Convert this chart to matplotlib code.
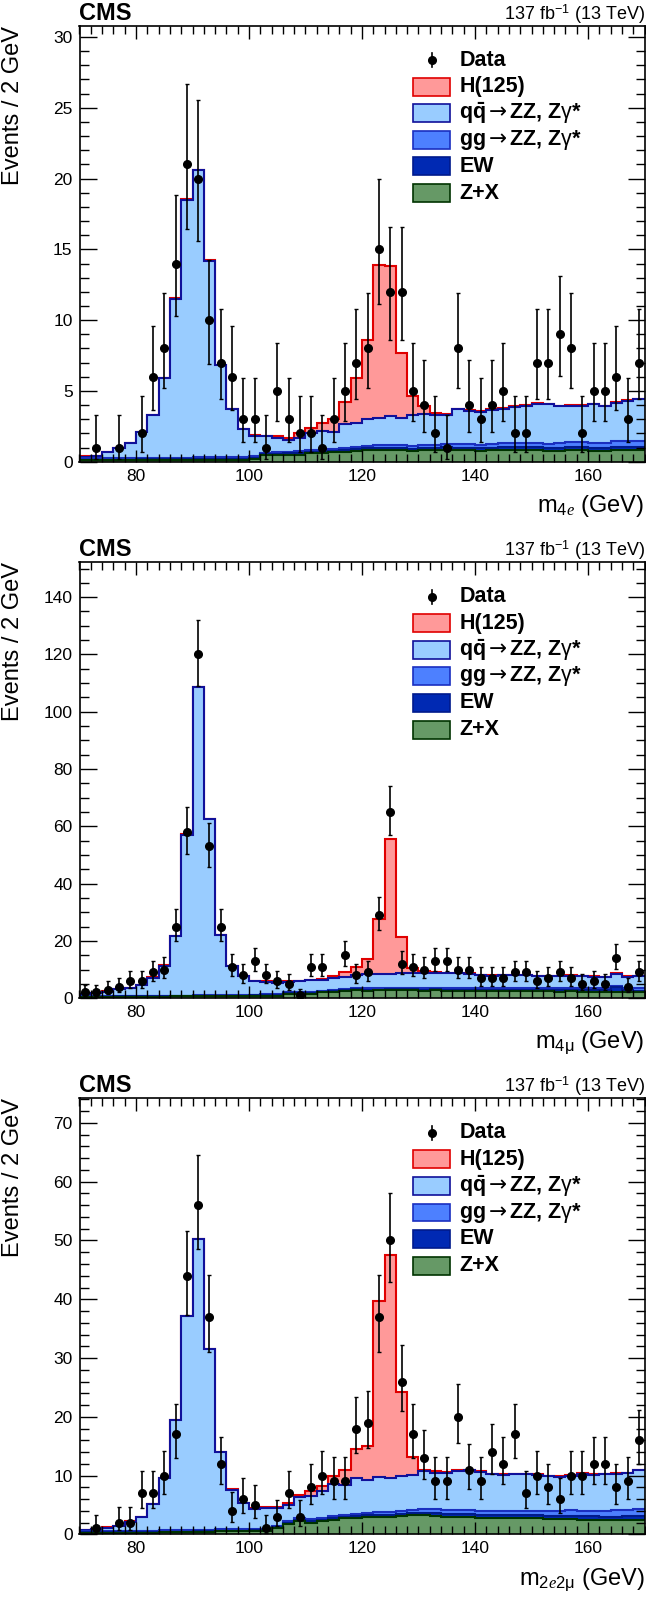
import numpy as np
import matplotlib
matplotlib.use("Agg")
import matplotlib.pyplot as plt
from matplotlib.patches import Rectangle
from matplotlib.ticker import MultipleLocator

plt.rcParams['font.family'] = ['Liberation Sans', 'DejaVu Sans']
plt.rcParams['mathtext.fontset'] = 'custom'
plt.rcParams['mathtext.rm'] = 'Liberation Sans'
plt.rcParams['mathtext.bf'] = 'Liberation Sans:bold'
plt.rcParams['mathtext.it'] = 'Liberation Serif:italic'
plt.rcParams['mathtext.sf'] = 'DejaVu Sans'

# 2 GeV bins from 70 to 170
edges = np.arange(70, 172, 2)

# ---- 4e ----
data_4e = [0, 1, 0, 1, 0, 2, 6, 8, 14, 21,
           20, 10, 7, 6, 3, 3, 1, 5, 3, 2,
           2, 1, 3, 5, 7, 8, 15, 12, 12, 5,
           4, 2, 1, 8, 4, 3, 4, 5, 2, 2,
           7, 7, 9, 8, 2, 5, 5, 6, 3, 7]
zx_4e = [0.10, 0.10, 0.10, 0.10, 0.10, 0.12, 0.12, 0.12, 0.12, 0.12,
         0.15, 0.15, 0.15, 0.15, 0.15, 0.20, 0.45, 0.45, 0.50, 0.50,
         0.60, 0.60, 0.65, 0.70, 0.75, 0.80, 0.85, 0.80, 0.80, 0.75,
         0.80, 0.80, 0.85, 0.80, 0.80, 0.75, 0.80, 0.85, 0.80, 0.80,
         0.80, 0.75, 0.75, 0.80, 0.80, 0.75, 0.75, 0.80, 0.80, 0.80]
ew_4e = [0.05, 0.05, 0.05, 0.05, 0.05, 0.05, 0.05, 0.05, 0.05, 0.05,
         0.06, 0.06, 0.06, 0.06, 0.06, 0.07, 0.07, 0.08, 0.08, 0.09,
         0.10, 0.10, 0.11, 0.12, 0.13, 0.14, 0.14, 0.15, 0.15, 0.16,
         0.17, 0.17, 0.18, 0.18, 0.19, 0.20, 0.20, 0.20, 0.21, 0.21,
         0.22, 0.22, 0.22, 0.23, 0.23, 0.24, 0.24, 0.25, 0.25, 0.26]
gg_4e = [0.12, 0.12, 0.12, 0.12, 0.12, 0.12, 0.12, 0.12, 0.12, 0.12,
         0.10, 0.10, 0.10, 0.10, 0.10, 0.12, 0.12, 0.13, 0.13, 0.14,
         0.15, 0.15, 0.16, 0.17, 0.17, 0.18, 0.19, 0.20, 0.20, 0.21,
         0.22, 0.22, 0.23, 0.24, 0.25, 0.26, 0.27, 0.27, 0.28, 0.29,
         0.30, 0.31, 0.32, 0.33, 0.34, 0.35, 0.36, 0.38, 0.40, 0.42]
qq_4e = [0.08, 0.13, 0.38, 0.68, 1.03, 1.81, 3.01, 5.61, 11.21, 18.21,
         20.29, 13.89, 6.49, 3.39, 1.99, 1.46, 1.16, 0.99, 0.84, 0.97,
         1.15, 1.35, 1.18, 1.66, 1.65, 1.88, 1.92, 2.05, 1.95, 2.18,
         2.21, 2.11, 2.04, 2.48, 2.36, 2.29, 2.38, 2.43, 2.56, 2.65,
         2.78, 2.77, 2.61, 2.59, 2.58, 2.71, 2.55, 2.72, 2.85, 2.92]
h_4e = [0.02, 0.02, 0.02, 0.02, 0.02, 0.02, 0.02, 0.03, 0.03, 0.03,
        0.03, 0.03, 0.03, 0.03, 0.03, 0.05, 0.05, 0.15, 0.10, 0.30,
        0.35, 0.50, 0.95, 1.60, 3.20, 5.60, 10.80, 10.60, 4.55, 1.35,
        0.50, 0.15, 0.10, 0.05, 0.05, 0.05, 0.05, 0.05, 0.05, 0.05,
        0.05, 0.05, 0.05, 0.05, 0.05, 0.05, 0.05, 0.05, 0.05, 0.05]

# ---- 4mu ----
data_4m = [2, 2, 3, 4, 6, 6, 9, 10, 25, 58,
           120, 53, 25, 11, 8, 13, 8, 6, 5, 1,
           11, 11, 0, 15, 8, 9, 29, 65, 12, 11,
           10, 13, 13, 10, 10, 7, 7, 7, 9, 9,
           6, 7, 9, 7, 5, 6, 5, 14, 4, 9]
zx_4m = [0.40, 0.45, 0.45, 0.50, 0.50, 0.50, 0.55, 0.55, 0.60, 0.60,
         0.60, 0.65, 0.65, 0.70, 0.70, 0.75, 0.80, 0.80, 1.50, 1.50,
         1.50, 2.00, 2.10, 2.60, 2.90, 2.60, 2.70, 2.80, 2.70, 2.70,
         2.60, 2.70, 2.60, 2.60, 2.50, 2.50, 2.40, 2.50, 2.40, 2.50,
         2.40, 2.40, 2.30, 2.40, 2.30, 2.20, 2.30, 2.20, 2.20, 2.10]
ew_4m = [0.10, 0.10, 0.10, 0.10, 0.10, 0.12, 0.12, 0.12, 0.12, 0.12,
         0.15, 0.15, 0.15, 0.15, 0.15, 0.20, 0.20, 0.22, 0.22, 0.25,
         0.25, 0.27, 0.28, 0.30, 0.30, 0.32, 0.33, 0.34, 0.35, 0.36,
         0.37, 0.38, 0.39, 0.40, 0.40, 0.42, 0.42, 0.43, 0.44, 0.45,
         0.45, 0.46, 0.47, 0.48, 0.48, 0.50, 0.50, 1.60, 0.52, 0.55]
gg_4m = [0.20, 0.20, 0.20, 0.20, 0.20, 0.20, 0.20, 0.20, 0.20, 0.20,
         0.25, 0.25, 0.25, 0.25, 0.25, 0.30, 0.30, 0.32, 0.32, 0.34,
         0.35, 0.36, 0.38, 0.40, 0.42, 0.50, 0.52, 0.55, 0.57, 0.60,
         0.62, 0.64, 0.65, 0.67, 0.68, 0.70, 0.72, 0.73, 0.75, 0.76,
         0.78, 0.80, 0.80, 0.82, 0.83, 0.85, 0.86, 0.30, 0.88, 0.90]
qq_4m = [0.70, 1.00, 1.55, 2.30, 2.70, 3.88, 6.33, 10.53, 20.88, 56.18,
         107.60, 61.35, 21.05, 10.20, 6.70, 4.85, 4.50, 3.86, 3.76, 3.91,
         4.20, 3.87, 4.24, 4.00, 4.38, 5.18, 4.95, 4.81, 5.08, 5.14,
         5.21, 5.18, 5.16, 5.03, 5.02, 4.38, 4.36, 4.34, 4.41, 4.39,
         4.17, 4.04, 4.23, 4.20, 3.99, 3.95, 3.74, 4.50, 3.90, 4.05]
h_4m = [0.05, 0.05, 0.05, 0.05, 0.05, 0.05, 0.05, 0.05, 0.05, 0.05,
        0.08, 0.08, 0.08, 0.08, 0.08, 0.05, 0.05, 0.05, 0.08, 0.10,
        0.15, 0.30, 0.60, 1.70, 2.80, 5.20, 19.10, 47.00, 12.50, 1.90,
        0.60, 0.20, 0.10, 0.10, 0.10, 0.10, 0.10, 0.10, 0.10, 0.10,
        0.10, 0.10, 0.10, 0.10, 0.10, 0.10, 0.10, 0.10, 0.10, 0.10]

# ---- 2e2mu ----
data_2e2m = [0, 1, 0, 2, 2, 7, 7, 10, 17, 44,
             56, 37, 12, 4, 6, 5, 1, 3, 7, 3,
             8, 10, 9, 9, 18, 19, 37, 50, 26, 17,
             13, 9, 9, 20, 11, 9, 14, 12, 17, 7,
             10, 8, 6, 10, 10, 12, 12, 8, 9, 16]
zx_2e2m = [0.25, 0.25, 0.30, 0.30, 0.30, 0.30, 0.30, 0.35, 0.35, 0.35,
           0.40, 0.40, 0.50, 0.50, 0.50, 0.50, 0.50, 1.00, 1.70, 2.20,
           2.00, 2.20, 2.50, 2.70, 2.80, 2.90, 3.00, 3.00, 3.10, 3.20,
           3.20, 3.10, 3.00, 3.00, 3.00, 2.80, 2.80, 2.70, 2.70, 2.70,
           2.70, 2.60, 2.60, 2.60, 2.50, 2.50, 2.40, 2.40, 2.40, 2.40]
ew_2e2m = [0.08, 0.08, 0.08, 0.08, 0.08, 0.10, 0.10, 0.10, 0.10, 0.10,
           0.12, 0.12, 0.12, 0.12, 0.12, 0.15, 0.15, 0.17, 0.18, 0.20,
           0.20, 0.22, 0.24, 0.26, 0.28, 0.30, 0.32, 0.34, 0.36, 0.38,
           0.50, 0.55, 0.45, 0.45, 0.45, 0.50, 0.50, 0.52, 0.54, 0.55,
           0.55, 0.56, 0.58, 0.58, 0.60, 0.60, 0.62, 0.62, 0.64, 0.65]
gg_2e2m = [0.20, 0.20, 0.20, 0.20, 0.20, 0.20, 0.20, 0.20, 0.20, 0.20,
           0.22, 0.22, 0.22, 0.22, 0.22, 0.25, 0.26, 0.28, 0.30, 0.32,
           0.34, 0.36, 0.38, 0.40, 0.42, 0.45, 0.47, 0.50, 0.52, 0.55,
           0.57, 0.60, 0.62, 0.64, 0.66, 0.68, 0.70, 0.72, 0.75, 0.78,
           0.80, 0.82, 0.85, 0.88, 0.90, 0.95, 1.00, 1.05, 1.10, 1.30]
qq_2e2m = [0.22, 0.37, 0.57, 0.82, 1.57, 2.35, 4.50, 8.85, 18.75, 36.45,
           49.46, 30.76, 13.16, 6.76, 4.46, 3.40, 3.64, 3.00, 2.82, 3.58,
           4.06, 4.52, 5.43, 5.09, 6.00, 5.65, 6.01, 5.76, 5.92, 5.97,
           6.43, 6.25, 6.43, 6.71, 6.79, 6.62, 6.20, 6.16, 6.21, 6.17,
           6.05, 5.92, 5.77, 5.94, 6.30, 6.05, 6.18, 6.23, 6.26, 6.55]
h_2e2m = [0.05, 0.05, 0.05, 0.05, 0.05, 0.05, 0.05, 0.05, 0.05, 0.05,
          0.05, 0.05, 0.05, 0.05, 0.05, 0.10, 0.15, 0.15, 0.40, 0.40,
          0.70, 0.90, 1.45, 2.55, 5.10, 5.70, 29.90, 37.90, 14.40, 3.10,
          0.30, 0.20, 0.10, 0.10, 0.10, 0.10, 0.10, 0.10, 0.10, 0.10,
          0.10, 0.10, 0.10, 0.10, 0.10, 0.10, 0.10, 0.10, 0.10, 0.10]

# stack order bottom -> top: Z+X, EW, gg, qq, H
fills = ['#669966', '#0029b3', '#4d80ff', '#99ccff', '#ff9999']
lines = ['#003300', '#001a8c', '#1a2fc0', '#10109a', '#e00000']
leg_labels = ["H(125)",
              r"q$\mathbf{\bar{q}}\mathsf{\rightarrow}$ZZ, Z$\mathrm{\gamma}$*",
              r"gg$\mathsf{\rightarrow}$ZZ, Z$\mathrm{\gamma}$*",
              "EW", "Z+X"]


def poisson_err(n):
    # approximate Garwood 68% intervals
    n = np.asarray(n, float)
    nn = np.maximum(n, 1)
    lo = n - n * (1 - 1 / (9 * nn) - 1 / (3 * np.sqrt(nn))) ** 3
    m = n + 1
    hi = m * (1 - 1 / (9 * m) + 1 / (3 * np.sqrt(m))) ** 3 - n
    return lo, hi


def draw_panel(ax, data, comps, ymax, major, minor, xlabel):
    cum = np.cumsum(np.array(comps), axis=0)
    for i in reversed(range(len(comps))):
        ax.stairs(cum[i], edges, baseline=0, fill=True, color=fills[i], lw=0)
        ax.stairs(cum[i], edges, baseline=None, color=lines[i], lw=1.5)

    n = np.array(data, float)
    centers = edges[:-1] + 1
    lo, hi = poisson_err(n)
    m = n > 0
    ax.errorbar(centers[m], n[m], yerr=[lo[m], hi[m]], fmt='o', color='black',
                ms=5.5, elinewidth=1.2, capsize=1.3, capthick=1.0, zorder=5)

    ax.set_xlim(70, 170)
    ax.set_ylim(0, ymax)
    ax.xaxis.set_major_locator(MultipleLocator(20))
    ax.xaxis.set_minor_locator(MultipleLocator(2))
    ax.yaxis.set_major_locator(MultipleLocator(major))
    ax.yaxis.set_minor_locator(MultipleLocator(minor))
    ax.tick_params(which='both', direction='in', top=True, right=True,
                   labelsize=12.5, width=1.0)
    ax.tick_params(axis='x', which='major', length=9, pad=5)
    ax.tick_params(axis='x', which='minor', length=5.5)
    ax.tick_params(axis='y', which='major', length=12, pad=5)
    ax.tick_params(axis='y', which='minor', length=6.5)
    for s in ax.spines.values():
        s.set_linewidth(1.2)

    ax.text(1.0, -50 / 436, xlabel, transform=ax.transAxes, ha='right',
            va='baseline', fontsize=17)
    ax.text(0.0, 1 + 6 / 436, "CMS", transform=ax.transAxes, ha='left',
            va='baseline', fontsize=17, fontweight='bold')
    ax.text(1.0, 1 + 6 / 436, r"137 fb$^{-1}$ (13 TeV)", transform=ax.transAxes,
            ha='right', va='baseline', fontsize=13)

    # legend
    rows = [0.921, 0.860, 0.799, 0.738, 0.678, 0.616]
    ax.plot([0.6233, 0.6233], [rows[0] - 0.016, rows[0] + 0.016], color='black',
            lw=1.2, transform=ax.transAxes)
    ax.plot([0.6233], [rows[0]], 'o', color='black', ms=5.5, transform=ax.transAxes)
    ax.text(0.672, rows[0], "Data", transform=ax.transAxes, ha='left',
            va='center', fontsize=15.5, fontweight='bold')
    for k, lab in enumerate(leg_labels):
        idx = len(fills) - 1 - k
        y = rows[k + 1]
        ax.add_patch(Rectangle((0.590, y - 0.0205), 0.0666, 0.041,
                               transform=ax.transAxes, facecolor=fills[idx],
                               edgecolor=lines[idx], lw=1.2))
        ax.text(0.672, y, lab, transform=ax.transAxes, ha='left',
                va='center', fontsize=15.5, fontweight='bold')


fig = plt.figure(figsize=(6.46, 15.97), dpi=100)
left, width, height = 79.5 / 646, 565 / 646, 436 / 1597
bottoms = [1 - 461.7 / 1597, 1 - 998.2 / 1597, 1 - 1534.3 / 1597]

panels = [
    (data_4e, [zx_4e, ew_4e, gg_4e, qq_4e, h_4e], 30.8, 5, 1,
     r"m$_{4\mathit{e}}$ (GeV)"),
    (data_4m, [zx_4m, ew_4m, gg_4m, qq_4m, h_4m], 152.2, 20, 5,
     r"m$_{4\mathrm{\mu}}$ (GeV)"),
    (data_2e2m, [zx_2e2m, ew_2e2m, gg_2e2m, qq_2e2m, h_2e2m], 74.2, 10, 2,
     r"m$_{2\mathit{e}2\mathrm{\mu}}$ (GeV)"),
]

for b, (data, comps, ymax, major, minor, xl) in zip(bottoms, panels):
    ax = fig.add_axes([left, b, width, height])
    draw_panel(ax, data, comps, ymax, major, minor, xl)
    fig.text(2 / 646, b + height, "Events / 2 GeV", rotation=90, ha='left',
             va='top', fontsize=17)

fig.savefig("out.png", dpi=100)
